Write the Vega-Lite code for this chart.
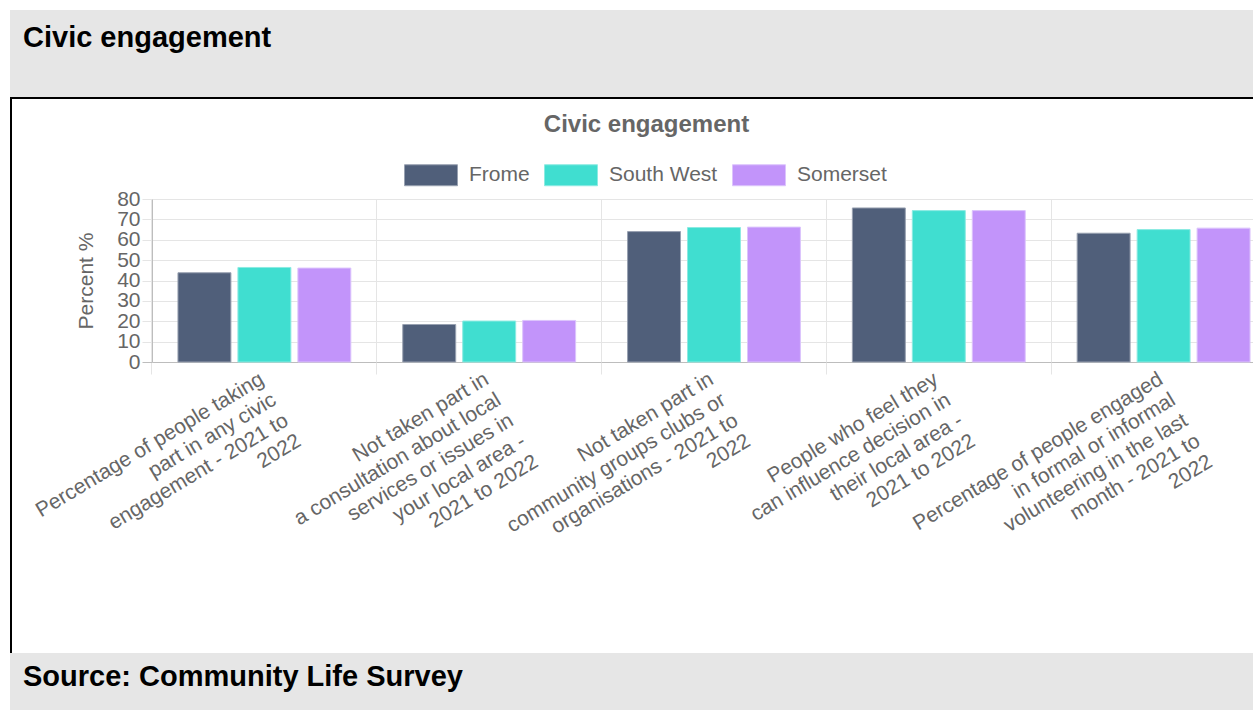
{
  "$schema": "https://vega.github.io/schema/vega-lite/v6.json",
  "padding": {"left": 10, "top": 10, "right": 0, "bottom": 0},
  "background": "white",
  "spacing": 0,
  "config": {
    "font": "Liberation Sans, Arial, sans-serif",
    "view": {"stroke": null}
  },
  "resolve": {"scale": {"color": "independent", "stroke": "independent"}, "legend": {"color": "independent", "stroke": "independent"}},
  "datasets": {
    "civic": [
      {"indicator": "Percentage of people taking\npart in any civic\nengagement - 2021 to\n2022", "area": "Frome", "value": 43.8},
      {"indicator": "Percentage of people taking\npart in any civic\nengagement - 2021 to\n2022", "area": "South West", "value": 46.4},
      {"indicator": "Percentage of people taking\npart in any civic\nengagement - 2021 to\n2022", "area": "Somerset", "value": 46.1},
      {"indicator": "Not taken part in\na consultation about local\nservices or issues in\nyour local area -\n2021 to 2022", "area": "Frome", "value": 18.4},
      {"indicator": "Not taken part in\na consultation about local\nservices or issues in\nyour local area -\n2021 to 2022", "area": "South West", "value": 20.1},
      {"indicator": "Not taken part in\na consultation about local\nservices or issues in\nyour local area -\n2021 to 2022", "area": "Somerset", "value": 20.4},
      {"indicator": "Not taken part in\ncommunity groups clubs or\norganisations - 2021 to\n2022", "area": "Frome", "value": 64.0},
      {"indicator": "Not taken part in\ncommunity groups clubs or\norganisations - 2021 to\n2022", "area": "South West", "value": 66.0},
      {"indicator": "Not taken part in\ncommunity groups clubs or\norganisations - 2021 to\n2022", "area": "Somerset", "value": 66.2},
      {"indicator": "People who feel they\ncan influence decision in\ntheir local area -\n2021 to 2022", "area": "Frome", "value": 75.6},
      {"indicator": "People who feel they\ncan influence decision in\ntheir local area -\n2021 to 2022", "area": "South West", "value": 74.3},
      {"indicator": "People who feel they\ncan influence decision in\ntheir local area -\n2021 to 2022", "area": "Somerset", "value": 74.3},
      {"indicator": "Percentage of people engaged\nin formal or informal\nvolunteering in the last\nmonth - 2021 to\n2022", "area": "Frome", "value": 63.2},
      {"indicator": "Percentage of people engaged\nin formal or informal\nvolunteering in the last\nmonth - 2021 to\n2022", "area": "South West", "value": 65.0},
      {"indicator": "Percentage of people engaged\nin formal or informal\nvolunteering in the last\nmonth - 2021 to\n2022", "area": "Somerset", "value": 65.7}
    ]
  },
  "vconcat": [
    {
      "width": 1243,
      "height": 87,
      "view": {"fill": "#e6e6e6", "stroke": null},
      "title": {"text": "Civic engagement", "anchor": "start", "orient": "top", "offset": -66, "baseline": "alphabetic", "fontSize": 29, "fontWeight": "bold", "color": "#000000", "dx": 13},
      "data": {"values": []},
      "mark": "point"
    },
    {
      "width": 1243,
      "height": 2,
      "view": {"fill": "#000000", "stroke": null},
      "data": {"values": []},
      "mark": "point"
    },
    {
      "spacing": 19,
      "resolve": {"scale": {"color": "independent", "stroke": "independent"}, "legend": {"color": "independent", "stroke": "independent"}},
      "hconcat": [
        {
          "width": 2,
          "height": 554,
          "view": {"fill": "#000000", "stroke": null},
          "data": {"values": []},
          "mark": "point"
        },
        {
          "spacing": 0,
          "resolve": {"scale": {"color": "independent", "stroke": "independent"}, "legend": {"color": "independent", "stroke": "independent"}},
          "vconcat": [
            {
              "width": 1,
              "height": 14,
              "data": {"values": []},
              "mark": "point"
            },
            {
              "width": 1101,
              "height": 163,
              "data": {"name": "civic"},
              "title": {"text": "Civic engagement", "fontSize": 24, "fontWeight": "bold", "color": "#666666", "anchor": "middle", "frame": "group", "dx": -56, "baseline": "alphabetic", "offset": -8},
              "mark": {"type": "bar", "strokeWidth": 1},
              "encoding": {
                "x": {
                  "field": "indicator",
                  "type": "nominal",
                  "sort": null,
                  "scale": {"range": [0, 1124], "paddingInner": 0.231, "paddingOuter": 0.1155},
                  "axis": {
                    "title": null,
                    "bandPosition": -0.1502,
                    "domain": false,
                    "grid": true,
                    "gridColor": "#e5e5e5",
                    "ticks": true,
                    "tickSize": 12,
                    "tickColor": "#e5e5e5",
                    "labelOffset": -8,
                    "labelAngle": -31,
                    "labelAlign": "right",
                    "labelBaseline": "top",
                    "labelPadding": -6,
                    "labelFontSize": 21,
                    "labelColor": "#666666",
                    "labelLineHeight": 24,
                    "labelLimit": 0,
                    "labelOverlap": false,
                    "labelExpr": "split(datum.label, '\\n')",
                    "minExtent": 280,
                    "maxExtent": 280
                  }
                },
                "xOffset": {
                  "field": "area",
                  "sort": ["Frome", "South West", "Somerset"],
                  "scale": {"paddingInner": 0.117, "paddingOuter": 0}
                },
                "y": {
                  "field": "value",
                  "type": "quantitative",
                  "scale": {"domain": [0, 80]},
                  "axis": {
                    "title": "Percent %",
                    "titleFontSize": 21,
                    "titleFontWeight": "normal",
                    "titleColor": "#666666",
                    "titlePadding": 21,
                    "values": [0, 10, 20, 30, 40, 50, 60, 70, 80],
                    "labelOverlap": false,
                    "labelFontSize": 21,
                    "labelColor": "#666666",
                    "labelPadding": 2,
                    "tickSize": 10,
                    "tickColor": {"condition": {"test": "datum.value === 0", "value": "#bdbdbd"}, "value": "#e5e5e5"},
                    "gridColor": {"condition": {"test": "datum.value === 0", "value": "#bdbdbd"}, "value": "#e5e5e5"},
                    "domain": true,
                    "domainColor": "#bdbdbd",
                    "minExtent": 35,
                    "maxExtent": 35
                  }
                },
                "color": {
                  "field": "area",
                  "type": "nominal",
                  "sort": ["Frome", "South West", "Somerset"],
                  "scale": {"domain": ["Frome", "South West", "Somerset"], "range": ["#505f7a", "#40ded0", "#c294fa"]},
                  "legend": {
                    "orient": "none",
                    "legendX": 252,
                    "legendY": -51,
                    "direction": "horizontal",
                    "title": null,
                    "symbolType": "M-1,-0.396H1V0.396H-1Z",
                    "symbolSize": 2809,
                    "symbolStrokeWidth": 1,
                    "labelFontSize": 21,
                    "labelColor": "#666666",
                    "labelOffset": 11,
                    "columnPadding": 12,
                    "padding": 0
                  }
                },
                "stroke": {
                  "field": "area",
                  "type": "nominal",
                  "sort": ["Frome", "South West", "Somerset"],
                  "scale": {"domain": ["Frome", "South West", "Somerset"], "range": ["#98a1b1", "#8cebe2", "#dcc4fc"]}
                }
              }
            }
          ]
        }
      ]
    },
    {
      "width": 1243,
      "height": 57,
      "view": {"fill": "#e6e6e6", "stroke": null},
      "title": {"text": "Source: Community Life Survey", "anchor": "start", "orient": "top", "offset": -62, "baseline": "alphabetic", "fontSize": 29, "fontWeight": "bold", "color": "#000000", "dx": 13},
      "data": {"values": []},
      "mark": "point"
    }
  ]
}
